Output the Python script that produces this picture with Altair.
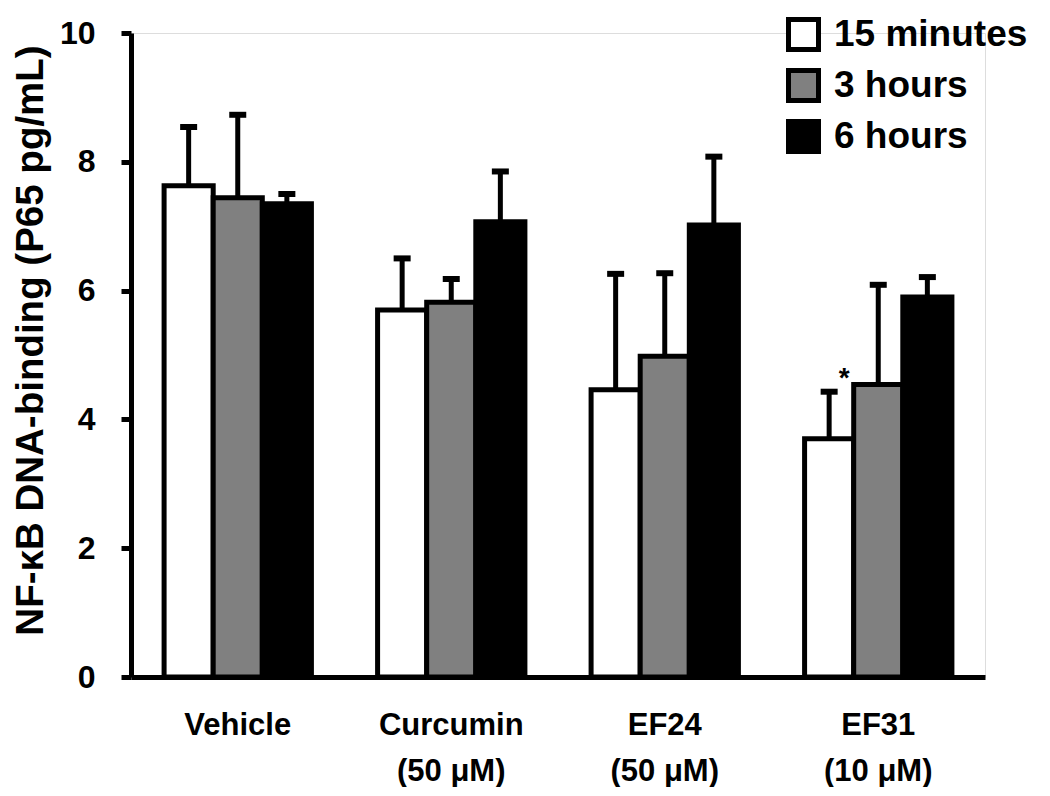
import altair as alt
import pandas as pd

groups = ["Vehicle", "Curcumin|(50 μM)", "EF24|(50 μM)", "EF31|(10 μM)"]
series = ["15 minutes", "3 hours", "6 hours"]
colors = ["white", "#808080", "black"]

mean_15min = [7.63, 5.70, 4.46, 3.70]
mean_3h = [7.44, 5.82, 4.98, 4.54]
mean_6h = [7.35, 7.07, 7.02, 5.90]

upper_15min = [8.54, 6.50, 6.26, 4.43]
upper_3h = [8.73, 6.18, 6.27, 6.09]
upper_6h = [7.50, 7.85, 8.08, 6.21]

star_group = "EF31|(10 μM)"
star_series = "15 minutes"
star_value = 4.62

rows = []
for s, m, u in [(series[0], mean_15min, upper_15min),
                (series[1], mean_3h, upper_3h),
                (series[2], mean_6h, upper_6h)]:
    for g, mv, uv in zip(groups, m, u):
        rows.append({"group": g, "series": s, "mean": mv, "upper": uv})
df = pd.DataFrame(rows)
star_df = pd.DataFrame([{"group": star_group, "series": star_series, "y": star_value, "t": "*"}])

FONT = "Liberation Sans"

x_enc = alt.X("group:N", sort=groups,
              scale=alt.Scale(domain=groups, paddingInner=0.31, paddingOuter=0.155),
              axis=alt.Axis(title=None, labelAngle=0, labelExpr="split(datum.label, '|')",
                            labelFontSize=31, labelFontWeight="bold", labelFont=FONT,
                            labelColor="black", labelPadding=33, labelLineHeight=46,
                            ticks=False, domainWidth=5, domainColor="black"))
xo_enc = alt.XOffset("series:N", sort=series,
                     scale=alt.Scale(domain=series, paddingInner=0, paddingOuter=0))
y_scale = alt.Scale(domain=[0, 10], nice=False, zero=True)

bars = alt.Chart(df).mark_bar(stroke="black", strokeWidth=5, strokeJoin="miter").encode(
    x=x_enc,
    xOffset=xo_enc,
    y=alt.Y("mean:Q", scale=y_scale,
            axis=alt.Axis(title="NF-κB DNA-binding (P65 pg/mL)", values=[0, 2, 4, 6, 8, 10],
                          format="d", labelFontSize=32, labelFontWeight="bold", labelFont=FONT,
                          labelColor="black", labelPadding=26, tickSize=10, tickWidth=5,
                          tickColor="black", domainWidth=5, domainColor="black",
                          grid=False, titleFontSize=38.5, titleFontWeight="bold",
                          titleFont=FONT, titleColor="black", titlePadding=9,
                          titleY=307)),
    fill=alt.Fill("series:N", sort=series,
                  scale=alt.Scale(domain=series, range=colors),
                  legend=alt.Legend(title=None, orient="none", legendX=654, legendY=-17,
                                    symbolType="square", symbolSize=900,
                                    symbolStrokeColor="black", symbolStrokeWidth=5,
                                    symbolOpacity=1, labelLimit=0,
                                    labelFontSize=37, labelFontWeight="bold", labelFont=FONT,
                                    labelColor="black", labelOffset=12, rowPadding=0,
                                    padding=0)),
)

err = alt.Chart(df).mark_rule(color="black", strokeWidth=5).encode(
    x=alt.X("group:N", sort=groups),
    xOffset=alt.XOffset("series:N", sort=series),
    y=alt.Y("mean:Q"),
    y2="upper:Q",
)

caps = alt.Chart(df).mark_tick(color="black", thickness=6, size=17, opacity=1).encode(
    x=alt.X("group:N", sort=groups),
    xOffset=alt.XOffset("series:N", sort=series),
    y=alt.Y("upper:Q"),
)

star = alt.Chart(star_df).mark_text(fontSize=28, fontWeight="bold", font=FONT,
                                   color="black", dx=15, baseline="middle").encode(
    x=alt.X("group:N", sort=groups),
    xOffset=alt.XOffset("series:N", sort=series),
    y=alt.Y("y:Q"),
    text="t:N",
)

chart = alt.layer(bars, err, caps, star).properties(
    width=854, height=644,
    padding={"left": 123, "top": 25, "right": 50, "bottom": 110},
    autosize=alt.AutoSizeParams(type="none"),
).configure_view(stroke=None).configure(background="white")

chart.save("out.html", embed_options={"renderer": "svg", "actions": False})
